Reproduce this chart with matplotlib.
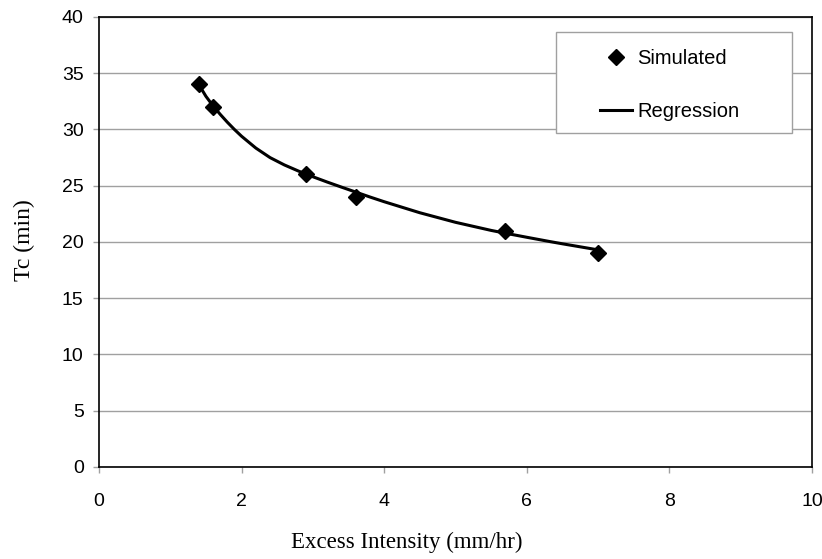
import numpy as np
import matplotlib
matplotlib.use("Agg")
import matplotlib.pyplot as plt
from matplotlib.patches import Rectangle

# -------------------------------------------------
# Datos.
# -------------------------------------------------
intensidad_sim = [1.4, 1.6, 2.9, 3.6, 5.7, 7.0]   # mm/hr
tc_sim = [34, 32, 26, 24, 21, 19]                 # min

# Curva de regresion (puntos leidos sobre la linea).
intensidad_reg = [1.4, 1.5, 1.6, 1.7, 1.8, 1.9, 2.0, 2.2, 2.4, 2.6, 2.8, 2.9, 3.0,
                  3.2, 3.4, 3.6, 3.8, 4.0, 4.5, 5.0, 5.5, 5.7, 6.0, 6.33, 6.5, 7.0]
tc_reg = [34.0, 32.95, 32.1, 31.35, 30.65, 30.0, 29.4, 28.35, 27.5, 26.85, 26.3, 26.05, 25.8,
          25.33, 24.88, 24.44, 24.0, 23.58, 22.6, 21.75, 21.03, 20.78, 20.42, 20.03, 19.84, 19.3]

x_ticks = [0, 2, 4, 6, 8, 10]
y_ticks = [0, 5, 10, 15, 20, 25, 30, 35, 40]

# -------------------------------------------------
# Figura.
# -------------------------------------------------
fig = plt.figure(figsize=(8.22, 5.59), dpi=100)
ax = fig.add_axes([0.1204, 0.1646, 0.8674, 0.805])

ax.plot(intensidad_reg, tc_reg, color='black', linewidth=2.2, label='Regression',
        zorder=3, solid_joinstyle='round')
ax.plot(intensidad_sim, tc_sim, linestyle='none', marker='D', markersize=8,
        color='black', label='Simulated', zorder=4)

ax.set_xlim(0, 10)
ax.set_ylim(0, 40)
ax.set_xticks(x_ticks)
ax.set_yticks(y_ticks)
ax.grid(axis='y', color='#a0a0a0', linewidth=1.0)
ax.set_axisbelow(True)

for s in ax.spines.values():
    s.set_color('black')
    s.set_linewidth(1.2)

ax.tick_params(direction='out', length=4, color='#a0a0a0', width=1, labelsize=14)
ax.tick_params(axis='x', pad=15)
ax.tick_params(axis='y', pad=7)
for lbl in ax.get_xticklabels() + ax.get_yticklabels():
    lbl.set_family('Liberation Sans')

ax.set_xlabel('Excess Intensity (mm/hr)', family='Liberation Serif', fontsize=16.5)
ax.xaxis.set_label_coords(0.432, -0.145)
ax.set_ylabel('Tc (min)', family='Liberation Serif', fontsize=17)
ax.yaxis.set_label_coords(-0.09, 0.504)

# Marco de la leyenda (rectangulo aparte para ajustar el tamaño).
ax.add_patch(Rectangle((0.641, 0.742), 0.331, 0.225, transform=ax.transAxes,
                       facecolor='white', edgecolor='#a0a0a0', linewidth=1.0, zorder=5))

handles, labels = ax.get_legend_handles_labels()
leg = ax.legend(handles[::-1], labels[::-1], loc='upper left',
                bbox_to_anchor=(0.703, 0.929), borderaxespad=0, borderpad=0,
                frameon=False, prop={'family': 'Liberation Sans', 'size': 14.5},
                labelspacing=1.7, handlelength=1.6, handletextpad=0.25)
leg.set_zorder(6)

fig.savefig('out.png', dpi=100)
